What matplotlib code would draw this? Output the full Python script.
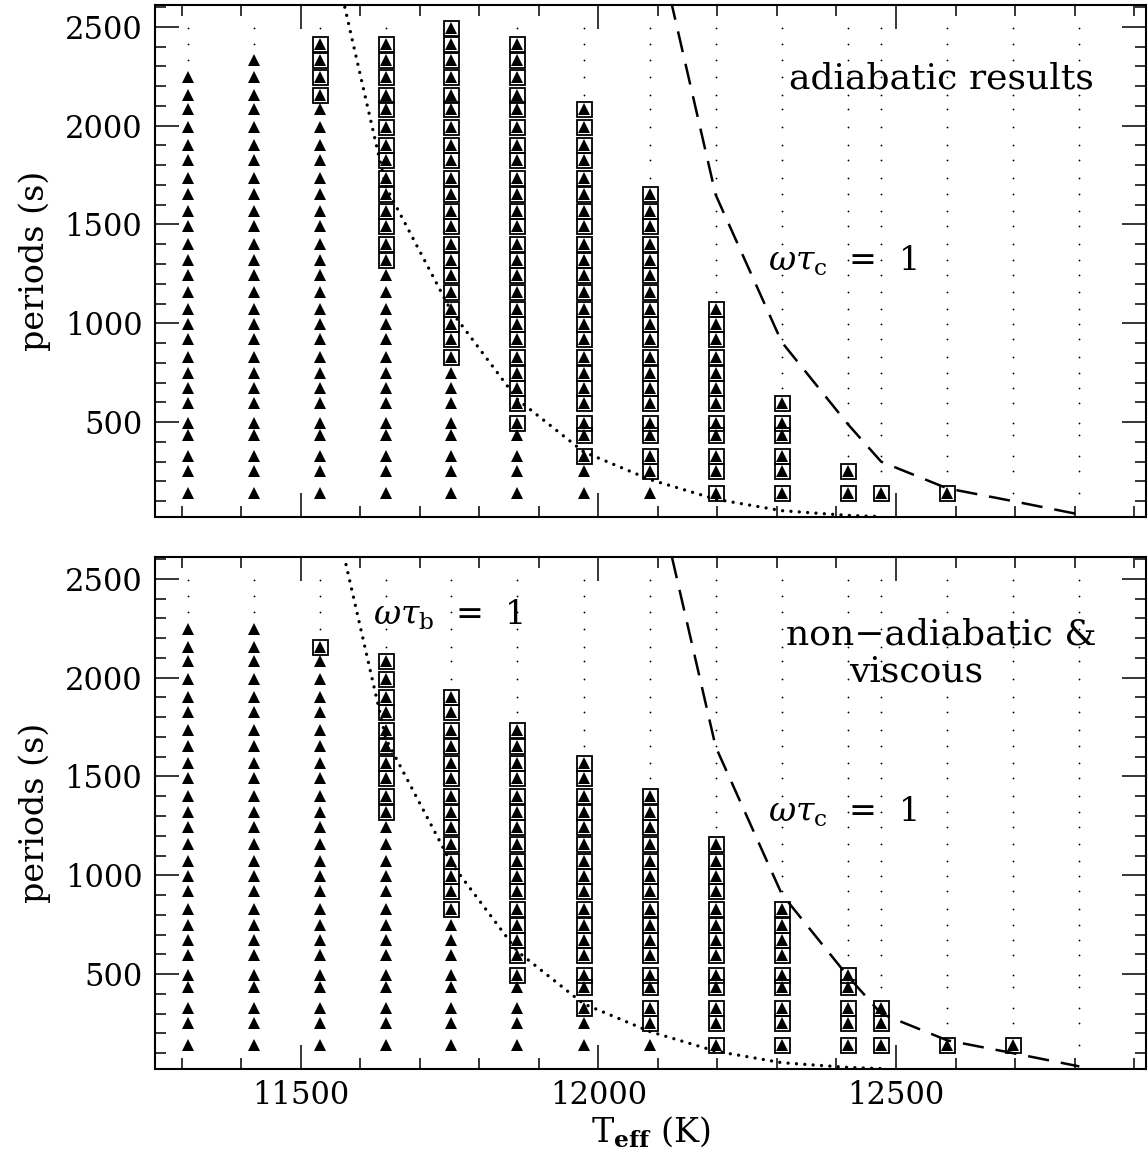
import matplotlib
matplotlib.use("Agg")
import matplotlib.pyplot as plt
from matplotlib.ticker import MultipleLocator

# Effective temperatures of the model sequence (K)
teff = [11310, 11421, 11532, 11643, 11753, 11864, 11975, 12086,
        12197, 12308, 12419, 12475, 12586, 12697, 12808]

# g-mode periods (s), lowest order first
periods = [140, 251, 328, 436, 496, 595, 674, 749, 831, 920, 995, 1074,
           1160, 1244, 1321, 1403, 1493, 1567, 1653, 1736, 1827, 1903,
           1993, 2084, 2156, 2245, 2330, 2413, 2493]

# Per Teff: number of modes marked with a triangle, and index of the first
# mode that is also boxed (boxes run from there up to the last marked mode)
adiab_n_modes = [26, 27, 28, 28, 29, 28, 24, 19, 12, 6, 2, 1, 1, 0, 0]
adiab_first_boxed = [26, 27, 24, 14, 8, 4, 2, 1, 0, 0, 0, 0, 0, 0, 0]
visc_n_modes = [26, 26, 25, 24, 22, 20, 18, 16, 13, 9, 5, 3, 1, 1, 0]
visc_first_boxed = [26, 26, 24, 14, 8, 4, 2, 1, 0, 0, 0, 0, 0, 0, 0]

# omega*tau = 1 boundaries (base of convection zone and convective time)
tau_b_teff = teff[2:12]
tau_b_period = [3150, 1690, 1060, 615, 350, 210, 110, 52, 28, 22]
tau_c_teff = teff[7:15]
tau_c_period = [3100, 1650, 905, 490, 300, 165, 100, 33]

plt.rcParams["font.family"] = "DejaVu Serif"
plt.rcParams["mathtext.fontset"] = "dejavuserif"

W, H = 1148, 1156
fig = plt.figure(figsize=(W / 100, H / 100), dpi=100)

left = 155 / W
width = (1146 - 155) / W
height = (517 - 4.7) / H
ax_top = fig.add_axes([left, 1 - 517 / H, width, height])
ax_bot = fig.add_axes([left, 1 - 1069 / H, width, height])


def draw_panel(ax, n_modes, first_boxed):
    tri_x, tri_y, box_x, box_y, dot_x, dot_y = [], [], [], [], [], []
    for t, n, fb in zip(teff, n_modes, first_boxed):
        for i, p in enumerate(periods):
            if i < n:
                tri_x.append(t)
                tri_y.append(p)
                if i >= fb:
                    box_x.append(t)
                    box_y.append(p)
            else:
                dot_x.append(t)
                dot_y.append(p)
    ax.plot(dot_x, dot_y, linestyle="none", marker="o", ms=1.3,
            color="black", mew=0)
    ax.plot(tri_x, tri_y, linestyle="none", marker="^", ms=8.0,
            color="black", mew=0)
    ax.plot(box_x, box_y, linestyle="none", marker="s", ms=10.8,
            mfc="none", mec="black", mew=1.3)
    ax.plot(tau_b_teff, tau_b_period, color="black", lw=2.4,
            linestyle=(0, (0.01, 2.5)), dash_capstyle="round")
    ax.plot(tau_c_teff, tau_c_period, color="black", lw=1.8,
            linestyle=(0, (8.5, 4.8)))

    ax.set_xlim(11255, 12920)
    ax.set_ylim(20, 2612)
    ax.xaxis.set_major_locator(MultipleLocator(500))
    ax.xaxis.set_minor_locator(MultipleLocator(100))
    ax.yaxis.set_major_locator(MultipleLocator(500))
    ax.yaxis.set_minor_locator(MultipleLocator(100))
    ax.tick_params(which="both", direction="in", top=True, right=True,
                   width=1.1, labelsize=22)
    ax.tick_params(which="major", length=17)
    ax.tick_params(which="minor", length=8)
    ax.tick_params(axis="y", pad=9)
    ax.tick_params(axis="x", pad=8)
    for s in ax.spines.values():
        s.set_linewidth(1.5)
    ax.set_ylabel("periods (s)", fontsize=24, labelpad=10)


draw_panel(ax_top, adiab_n_modes, adiab_first_boxed)
draw_panel(ax_bot, visc_n_modes, visc_first_boxed)

ax_top.tick_params(axis="x", labelbottom=False)
ax_bot.set_xlabel(r"T$_{\bf eff}$ (K)", fontsize=24, labelpad=2)

ax_top.text(0.794, 0.855, "adiabatic results", transform=ax_top.transAxes,
            ha="center", va="center", fontsize=26)
ax_top.text(0.6186, 0.50, r"$\omega\tau_{\rm c}$  =  1",
            transform=ax_top.transAxes, ha="left", va="center", fontsize=24)

ax_bot.text(0.793, 0.849, "non\u2212adiabatic &", transform=ax_bot.transAxes,
            ha="center", va="center", fontsize=26)
ax_bot.text(0.768, 0.7756, "viscous", transform=ax_bot.transAxes,
            ha="center", va="center", fontsize=26)
ax_bot.text(0.6186, 0.503, r"$\omega\tau_{\rm c}$  =  1",
            transform=ax_bot.transAxes, ha="left", va="center", fontsize=24)
ax_bot.text(0.22, 0.887, r"$\omega\tau_{\rm b}$  =  1",
            transform=ax_bot.transAxes, ha="left", va="center", fontsize=24)

fig.savefig("out.png", dpi=100)
